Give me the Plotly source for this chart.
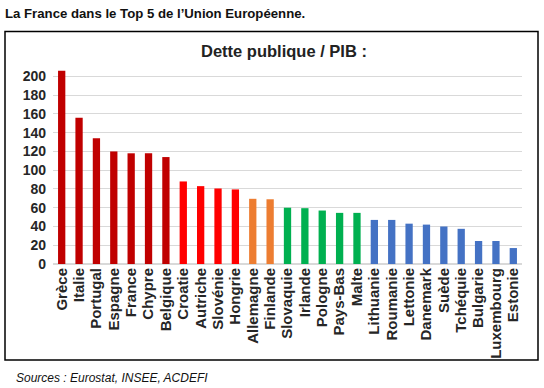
import plotly.graph_objects as go

countries = ["Grèce", "Italie", "Portugal", "Espagne", "France", "Chypre", "Belgique",
             "Croatie", "Autriche", "Slovénie", "Hongrie", "Allemagne", "Finlande",
             "Slovaquie", "Irlande", "Pologne", "Pays-Bas", "Malte", "Lithuanie",
             "Roumanie", "Lettonie", "Danemark", "Suède", "Tchéquie", "Bulgarie",
             "Luxembourg", "Estonie"]
debt_ratio = [206, 156, 134, 120, 118, 118, 114, 88, 83, 80.5, 79.5, 69.5, 69,
              60, 59.5, 57, 54.5, 54.5, 47, 47, 43, 42, 40, 37.5, 24.5, 24.5, 17]
groups = ["dark"] * 7 + ["red"] * 4 + ["orange"] * 2 + ["green"] * 5 + ["blue"] * 9
palette = {"dark": "#C00000", "red": "#FF0000", "orange": "#ED7D31",
           "green": "#00B050", "blue": "#4472C4"}
y_ticks = [0, 20, 40, 60, 80, 100, 120, 140, 160, 180, 200]

fig = go.Figure(go.Bar(
    x=countries, y=debt_ratio,
    marker=dict(color=[palette[g] for g in groups], line=dict(width=0)),
))

font = "Liberation Sans, Arial, sans-serif"
L, R, T, B = 53, 22, 67, 124
W, H = 544, 388
pw, ph = W - L - R, H - T - B

def px(x):
    return (x - L) / pw

def py(y):
    return (H - B - y) / ph

fig.update_layout(
    width=W, height=H,
    margin=dict(l=L, r=R, t=T, b=B),
    paper_bgcolor="white", plot_bgcolor="white",
    bargap=0.58,
    showlegend=False,
    font=dict(family=font, color="#262626"),
    xaxis=dict(tickangle=-90, tickmode="array", tickvals=countries, ticktext=countries,
               tickfont=dict(size=15, family=font, color="#262626", weight="bold"),
               showgrid=False, showline=False, ticks="", fixedrange=True),
    yaxis=dict(range=[0, 210], tickvals=y_ticks, showgrid=True, gridcolor="#D9D9D9",
               gridwidth=1, zeroline=True, zerolinecolor="#D9D9D9", showline=False,
               tickfont=dict(size=14, family=font, color="#262626", weight="bold"),
               ticks="", ticklabelstandoff=6),
    shapes=[dict(type="rect", xref="paper", yref="paper",
                 x0=px(5), x1=px(538), y0=py(360), y1=py(31.5),
                 line=dict(color="black", width=1.5), fillcolor="rgba(0,0,0,0)",
                 layer="below")],
    annotations=[
        dict(text="<b>La France dans le Top 5 de l’Union Européenne.</b>",
             xref="paper", yref="paper", x=px(3), y=py(14), xanchor="left", yanchor="middle",
             showarrow=False, font=dict(size=13.2, family=font, color="#111111")),
        dict(text="<b>Dette publique / PIB :</b>", xref="paper", yref="paper",
             x=px(284), y=py(51), xanchor="center", yanchor="middle",
             showarrow=False, font=dict(size=16.5, family=font, color="#222222")),
        dict(text="<i>Sources : Eurostat, INSEE, ACDEFI</i>", xref="paper", yref="paper",
             x=px(14), y=py(378), xanchor="left", yanchor="middle",
             showarrow=False, font=dict(size=12, family=font, color="#111111")),
    ],
)

fig.write_html("out.html", config={"displayModeBar": False},
               post_script="document.body.style.margin='0px';")
